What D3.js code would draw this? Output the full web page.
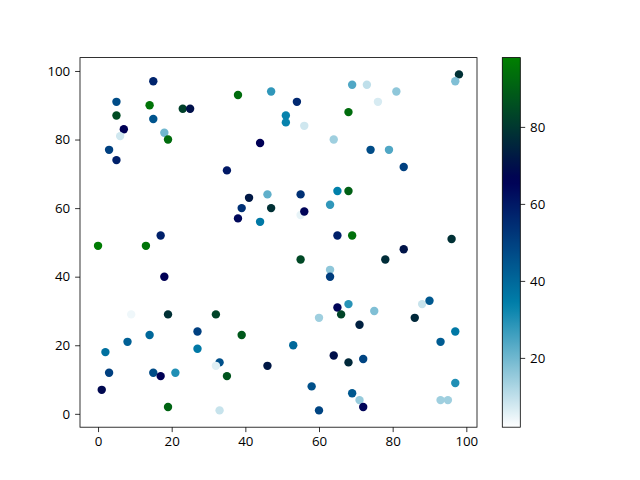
<!DOCTYPE html>
<html><head><meta charset="utf-8">
<script src="https://cdn.jsdelivr.net/npm/d3@7"></script>
<style>body{margin:0;background:#fff}svg{display:block}text{font-family:"Open Sans","Liberation Sans",sans-serif}</style>
</head><body><div id="chart"></div>
<script>
const xs = [15,5,14,23,25,5,15,7,6,18,19,3,5,38,47,44,35,41,46,47,39,38,44,17,0,13,
69,73,81,76,98,97,54,68,51,51,56,64,74,79,83,55,65,68,63,55,56,65,69,96,
18,9,19,32,14,8,2,27,39,27,3,15,17,21,33,32,35,46,1,19,33,
83,55,78,63,63,68,65,66,60,75,71,88,90,86,97,93,53,64,68,72,58,69,71,72,60,97,93,95];
const ys = [97,91,90,89,89,87,86,83,81,82,80,77,74,93,94,79,71,63,64,60,60,57,56,52,49,49,
96,96,94,91,99,97,91,88,87,85,84,80,77,77,72,64,65,65,61,58,59,52,52,51,
40,29,29,29,23,21,18,24,23,19,12,12,11,12,15,14,11,14,7,2,1,
48,45,45,42,40,32,31,29,28,30,26,32,33,28,24,21,20,17,15,16,8,6,4,2,1,9,4,4];
const cs = [57,47,95,82,70,85,45,66,8,20,93,50,58,93,28,66,60,72,22,78,54,64,36,58,97,95,
24,10,16,7,78,18,56,93,33,33,8,14,47,24,50,54,34,90,28,5,65,58,94,78,
66,4,78,83,40,42,38,50,88,36,50,47,66,30,46,6,87,72,68,91,9,
71,84,77,16,51,29,65,83,14,18,74,9,44,76,36,43,40,70,76,49,46,44,15,65,49,30,14,14];
const xTicks = [0,20,40,60,80,100];
const yTicks = [0,20,40,60,80,100];
const cTicks = [20,40,60,80];
const cMin = 2, cMax = 98;

function ocean(u){
  const cl = v => Math.max(0, Math.min(1, v));
  const r = cl(3*u-2), g = cl(Math.abs((3*u-1)/2)), b = cl(u);
  return `rgb(${Math.round(r*255)},${Math.round(g*255)},${Math.round(b*255)})`;
}
const oceanR = t => ocean(1 - t);
const cnorm = d3.scaleLinear().domain([cMin, cMax]).range([0,1]).clamp(true);
const color = v => oceanR(cnorm(v));

const W = 640, H = 480;
const svg = d3.select("#chart").append("svg").attr("width", W).attr("height", H);
const L = 80, R = 477, T = 57.6, B = 427.2;
const x = d3.scaleLinear().domain([-4.9, 102.9]).range([L, R]);
const y = d3.scaleLinear().domain([-3.9, 103.9]).range([B, T]);

const data = xs.map((v,i)=>({x:v, y:ys[i], c:cs[i]}));
svg.append("g").selectAll("circle").data(data).join("circle")
  .attr("cx", d=>x(d.x)).attr("cy", d=>y(d.y)).attr("r", 4.2)
  .attr("fill", d=>color(d.c));

const fs = "13.3px";
const xa = svg.append("g").attr("transform", `translate(0,${B})`)
  .call(d3.axisBottom(x).tickValues(xTicks).tickSize(4.9).tickPadding(4.9).tickFormat(d3.format("d")));
const ya = svg.append("g").attr("transform", `translate(${L},0)`)
  .call(d3.axisLeft(y).tickValues(yTicks).tickSize(4.9).tickPadding(4.9).tickFormat(d3.format("d")));
[xa, ya].forEach(a => { a.select(".domain").remove(); a.selectAll("text").attr("font-size", fs).attr("fill","#000").attr("font-family",null); a.selectAll("line").attr("stroke","#000").attr("stroke-width",0.8); });
svg.append("rect").attr("x", L).attr("y", T).attr("width", R-L).attr("height", B-T)
  .attr("fill","none").attr("stroke","#000").attr("stroke-width",0.8);

// colorbar
const cbL = 502.3, cbR = 520.3;
const cy = d3.scaleLinear().domain([cMin, cMax]).range([B, T]);
const defs = svg.append("defs");
const grad = defs.append("linearGradient").attr("id","cb").attr("x1",0).attr("y1",1).attr("x2",0).attr("y2",0);
d3.range(0, 1.0001, 0.02).forEach(t => grad.append("stop").attr("offset", t).attr("stop-color", oceanR(t)));
svg.append("rect").attr("x", cbL).attr("y", T).attr("width", cbR-cbL).attr("height", B-T).attr("fill","url(#cb)");
const ca = svg.append("g").attr("transform", `translate(${cbR},0)`)
  .call(d3.axisRight(cy).tickValues(cTicks).tickSize(4.9).tickPadding(4.9).tickFormat(d3.format("d")));
ca.select(".domain").remove();
ca.selectAll("text").attr("font-size", fs).attr("fill","#000").attr("font-family",null);
ca.selectAll("line").attr("stroke","#000").attr("stroke-width",0.8);
svg.append("rect").attr("x", cbL).attr("y", T).attr("width", cbR-cbL).attr("height", B-T)
  .attr("fill","none").attr("stroke","#000").attr("stroke-width",0.8);
</script></body></html>
